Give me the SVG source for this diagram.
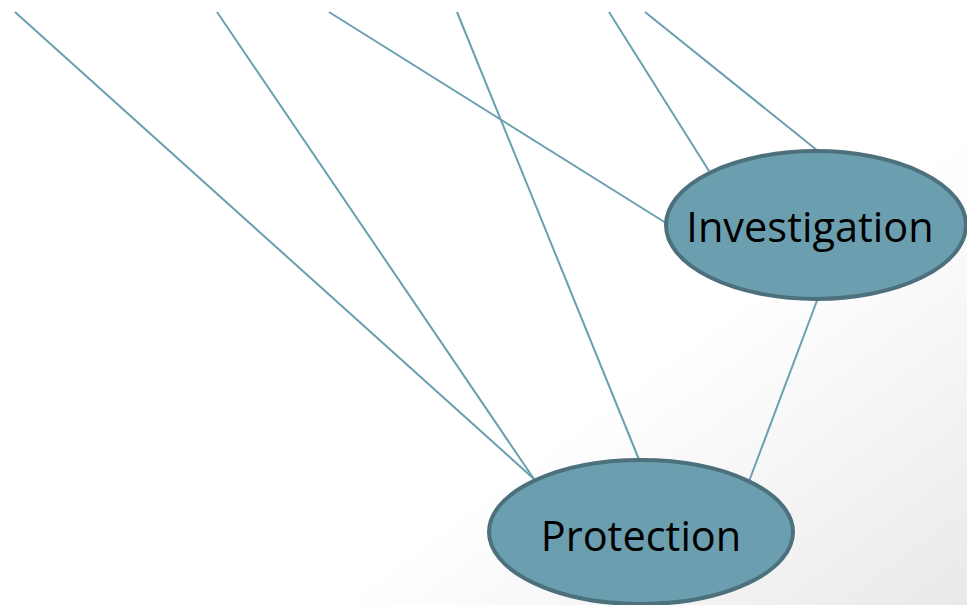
<svg xmlns="http://www.w3.org/2000/svg" width="967" height="605" viewBox="0 0 967 605">
<defs>
<linearGradient id="bg" gradientUnits="userSpaceOnUse" x1="740" y1="300" x2="967" y2="605">
<stop offset="0" stop-color="#ffffff"/>
<stop offset="1" stop-color="#e9e9e9"/>
</linearGradient>
<style>
.edge{stroke:#6a9fb0;stroke-width:2;fill:none}
.node ellipse{fill:#6b9faf;stroke:#4d707d;stroke-width:4}
.node text{font-family:"Open Sans","Liberation Sans",sans-serif;font-size:41.5px;fill:#000;text-anchor:middle}
</style>
</defs>
<rect width="967" height="605" fill="url(#bg)"/>
<g id="connectors">
<line class="edge" x1="15" y1="12" x2="534" y2="479"/>
<line class="edge" x1="217" y1="12" x2="534" y2="479"/>
<line class="edge" x1="329" y1="12" x2="666" y2="223"/>
<line class="edge" x1="457" y1="12" x2="640" y2="462"/>
<line class="edge" x1="609" y1="12" x2="709" y2="171"/>
<line class="edge" x1="645" y1="12" x2="818" y2="151"/>
<line class="edge" x1="818" y1="298" x2="748" y2="484"/>
</g>
<g id="investigation" class="node">
<ellipse cx="816" cy="225" rx="150" ry="74"/>
<text x="810" y="242">Investigation</text>
</g>
<g id="protection" class="node">
<ellipse cx="641" cy="532" rx="152" ry="72"/>
<text x="641" y="551">Protection</text>
</g>
</svg>
